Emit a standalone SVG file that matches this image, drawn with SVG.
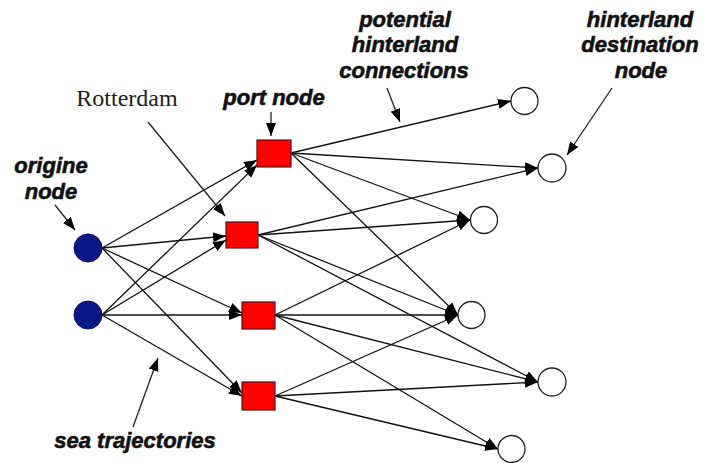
<svg xmlns="http://www.w3.org/2000/svg" width="705" height="463" viewBox="0 0 705 463">
<style>
.lbl{font-family:"Liberation Sans",Arial,sans-serif;font-weight:bold;font-style:italic;font-size:22px;fill:#111;stroke:#111;stroke-width:0.6;text-anchor:middle}
.serif{font-family:"Liberation Serif","Times New Roman",serif;font-size:24px;fill:#222;text-anchor:middle}
.e{stroke:#111;stroke-width:1.3;fill:none;marker-end:url(#ah)}
.p{stroke:#222;stroke-width:1.3;fill:none;marker-end:url(#ah)}
.orig{fill:#0c1787;stroke:#0a1060;stroke-width:1}
.port{fill:#f00;stroke:#5a1010;stroke-width:1.2}
.dest{fill:#fff;stroke:#222;stroke-width:1.3}
</style>
<defs>
<marker id="ah" markerUnits="userSpaceOnUse" markerWidth="14" markerHeight="11" refX="13" refY="5" orient="auto">
<path d="M0,0 L13,5 L0,10 z" fill="#000"/>
</marker>
</defs>
<rect width="705" height="463" fill="#fff"/>
<g id="connectors">
<line class="e" x1="102" y1="248" x2="257" y2="160"/>
<line class="e" x1="102" y1="248" x2="226" y2="236"/>
<line class="e" x1="102" y1="248" x2="242" y2="313"/>
<line class="e" x1="102" y1="248" x2="242" y2="393"/>
<line class="e" x1="102" y1="315" x2="257" y2="165"/>
<line class="e" x1="102" y1="315" x2="226" y2="240"/>
<line class="e" x1="102" y1="315" x2="242" y2="315"/>
<line class="e" x1="102" y1="315" x2="242" y2="396"/>
<line class="e" x1="291" y1="153" x2="511" y2="101"/>
<line class="e" x1="291" y1="153" x2="538" y2="168"/>
<line class="e" x1="291" y1="153" x2="470" y2="220"/>
<line class="e" x1="291" y1="153" x2="458" y2="315"/>
<line class="e" x1="258" y1="235" x2="538" y2="168"/>
<line class="e" x1="258" y1="235" x2="470" y2="220"/>
<line class="e" x1="258" y1="235" x2="458" y2="315"/>
<line class="e" x1="258" y1="235" x2="538" y2="382"/>
<line class="e" x1="275" y1="315" x2="470" y2="220"/>
<line class="e" x1="275" y1="315" x2="458" y2="315"/>
<line class="e" x1="275" y1="315" x2="538" y2="382"/>
<line class="e" x1="275" y1="315" x2="498" y2="449"/>
<line class="e" x1="275" y1="396" x2="458" y2="315"/>
<line class="e" x1="275" y1="396" x2="538" y2="382"/>
<line class="e" x1="275" y1="396" x2="498" y2="449"/>
</g>
<g id="origin1"><circle class="orig" cx="88" cy="248" r="14"/></g>
<g id="origin2"><circle class="orig" cx="88" cy="315" r="14"/></g>
<g id="port1"><rect class="port" x="257" y="140" width="34" height="27"/></g>
<g id="port2"><rect class="port" x="226" y="222" width="32" height="26"/></g>
<g id="port3"><rect class="port" x="242" y="302" width="33" height="27"/></g>
<g id="port4"><rect class="port" x="242" y="382" width="33" height="28"/></g>
<g id="dest1"><circle class="dest" cx="524.5" cy="101" r="13.5"/></g>
<g id="dest2"><circle class="dest" cx="552" cy="168" r="14"/></g>
<g id="dest3"><circle class="dest" cx="484" cy="220" r="13.5"/></g>
<g id="dest4"><circle class="dest" cx="471.5" cy="315" r="13.5"/></g>
<g id="dest5"><circle class="dest" cx="552" cy="382" r="14"/></g>
<g id="dest6"><circle class="dest" cx="511.5" cy="449" r="13.5"/></g>
<g id="labels">
<text class="lbl" x="51" y="173">origine</text>
<text class="lbl" x="51" y="199">node</text>
<line class="p" x1="55" y1="205" x2="75" y2="230"/>
<text class="serif" x="127" y="106">Rotterdam</text>
<line class="p" x1="148" y1="122" x2="225" y2="216"/>
<text class="lbl" x="274" y="105">port node</text>
<line class="p" x1="271" y1="112" x2="271" y2="136"/>
<text class="lbl" x="405" y="27">potential</text>
<text class="lbl" x="405" y="52">hinterland</text>
<text class="lbl" x="404" y="78">connections</text>
<line class="p" x1="387" y1="88" x2="400" y2="122"/>
<text class="lbl" x="640" y="27">hinterland</text>
<text class="lbl" x="640" y="52">destination</text>
<text class="lbl" x="641" y="78">node</text>
<line class="p" x1="612" y1="88" x2="567" y2="155"/>
<text class="lbl" x="135" y="448">sea trajectories</text>
<line class="p" x1="133" y1="427" x2="158" y2="358"/>
</g>
</svg>
